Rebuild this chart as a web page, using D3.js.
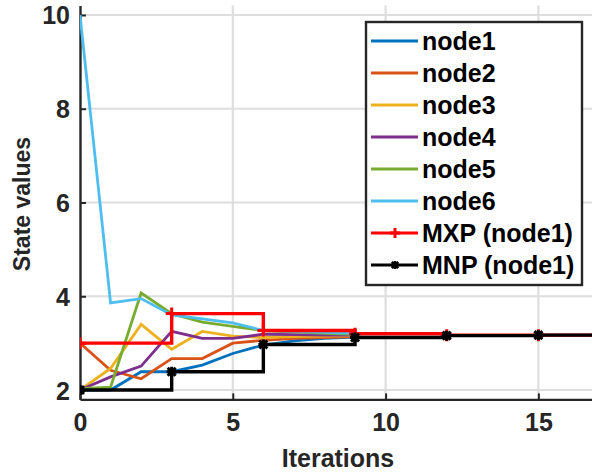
<!DOCTYPE html>
<html lang="en">

<head>
    <meta charset="UTF-8">
    <title>State values</title>
    <style>
        body { margin: 0; background: #fff; }
        text { font-family: "Liberation Sans", Arial, sans-serif; font-weight: bold; }
    </style>
</head>

<body>
    <script src="https://d3js.org/d3.v7.min.js"></script>
    <script>

        const width = 592;
        const height = 472;

        // data
        const iterations = [0, 1, 2, 3, 4, 5, 6, 7, 8, 9];
        const node1 = [2.0, 2.0, 2.39, 2.39, 2.53, 2.78, 2.96, 3.05, 3.10, 3.13];
        const node2 = [3.0, 2.42, 2.24, 2.67, 2.67, 3.0, 3.06, 3.10, 3.12, 3.14];
        const node3 = [2.0, 2.46, 3.40, 2.87, 3.25, 3.15, 3.12, 3.14, 3.15, 3.16];
        const node4 = [2.0, 2.28, 2.51, 3.25, 3.10, 3.10, 3.19, 3.18, 3.17, 3.17];
        const node5 = [2.03, 2.06, 4.07, 3.63, 3.45, 3.36, 3.27, 3.24, 3.21, 3.19];
        const node6 = [10.0, 3.86, 3.95, 3.60, 3.52, 3.43, 3.27, 3.25, 3.23, 3.21];

        const sampleIter = [0, 3, 6, 9, 12, 15, 18];
        const mxp = [3.0, 3.63, 3.27, 3.20, 3.17, 3.17, 3.17];
        const mnp = [2.0, 2.39, 2.97, 3.12, 3.16, 3.17, 3.17];

        const xTicks = [0, 5, 10, 15];
        const yTicks = [2, 4, 6, 8, 10];

        const nodeNames = ["node1", "node2", "node3", "node4", "node5", "node6"];
        const nodeColors = ["#0072BD", "#D95319", "#EDB120", "#7E2F8E", "#77AC30", "#4DBEEE"];

        const series = [node1, node2, node3, node4, node5, node6];

        // scales
        const x = d3.scaleLinear().domain([0, 17]).range([80, 599.5]);
        const y = d3.scaleLinear().domain([1.8, 10.2]).range([399.4, 5.6]);

        const svg = d3.select("body").append("svg")
            .attr("width", width)
            .attr("height", height);

        svg.append("clipPath").attr("id", "plot")
            .append("rect")
            .attr("x", 80).attr("y", 4).attr("width", 520).attr("height", 397);

        // grid
        const grid = svg.append("g").attr("stroke", "#dedede").attr("stroke-width", 2.2);
        grid.selectAll("line.gx")
            .data(xTicks.filter(d => d > 0))
            .join("line")
            .attr("x1", d => x(d)).attr("x2", d => x(d))
            .attr("y1", y.range()[0]).attr("y2", y.range()[1]);
        grid.selectAll("line.gy")
            .data(yTicks)
            .join("line")
            .attr("x1", x.range()[0]).attr("x2", x.range()[1])
            .attr("y1", d => y(d)).attr("y2", d => y(d));

        // axes
        const xAxis = svg.append("g")
            .attr("transform", `translate(0,${y.range()[0]})`)
            .call(d3.axisBottom(x).tickValues(xTicks).tickSizeInner(-6).tickSizeOuter(0).tickPadding(14));
        const yAxis = svg.append("g")
            .attr("transform", `translate(${x.range()[0]},0)`)
            .call(d3.axisLeft(y).tickValues(yTicks).tickSizeInner(-6).tickSizeOuter(0).tickPadding(10));

        [xAxis, yAxis].forEach(a => {
            a.select(".domain").attr("stroke", "#262626").attr("stroke-width", 2.4);
            a.selectAll(".tick line").attr("stroke", "#262626").attr("stroke-width", 2);
            a.selectAll(".tick text")
                .attr("font-size", 25)
                .attr("font-family", "Liberation Sans, Arial, sans-serif")
                .attr("font-weight", "bold")
                .attr("fill", "#262626");
        });
        yAxis.selectAll(".tick text").attr("dy", "0.36em");

        // axis labels
        svg.append("text")
            .attr("x", 338).attr("y", 467)
            .attr("text-anchor", "middle")
            .attr("font-size", 25)
            .attr("fill", "#262626")
            .text("Iterations");

        svg.append("text")
            .attr("transform", "translate(30,204) rotate(-90)")
            .attr("text-anchor", "middle")
            .attr("font-size", 23)
            .attr("fill", "#262626")
            .text("State values");

        // lines
        const plot = svg.append("g").attr("clip-path", "url(#plot)");

        const line = d3.line()
            .x((d, i) => x(iterations[i]))
            .y(d => y(d));

        plot.selectAll("path.node")
            .data(series)
            .join("path")
            .attr("fill", "none")
            .attr("stroke", (d, i) => nodeColors[i])
            .attr("stroke-width", 2.8)
            .attr("d", line);

        const stairs = d3.line()
            .x((d, i) => x(sampleIter[i]))
            .y(d => y(d))
            .curve(d3.curveStepAfter);

        function plusPath(s) {
            return `M${-s},0H${s}M0,${-s}V${s}`;
        }
        function starPath(s) {
            const d = s * 0.8;
            return `M${-s},0H${s}M0,${-s}V${s}M${-d},${-d}L${d},${d}M${-d},${d}L${d},${-d}`;
        }

        function drawStairs(vals, color, markerPath) {
            plot.append("path")
                .attr("fill", "none")
                .attr("stroke", color)
                .attr("stroke-width", 3.4)
                .attr("d", stairs(vals));
            plot.selectAll(null)
                .data(vals)
                .join("path")
                .attr("transform", (d, i) => `translate(${x(sampleIter[i])},${y(d)})`)
                .attr("fill", "none")
                .attr("stroke", color)
                .attr("stroke-width", 3)
                .attr("d", markerPath);
        }

        drawStairs(mxp, "#ff0000", plusPath(6));
        drawStairs(mnp, "#000000", starPath(5));

        // legend
        const legendNames = nodeNames.concat(["MXP (node1)", "MNP (node1)"]);
        const legendColors = nodeColors.concat(["#ff0000", "#000000"]);

        const legend = svg.append("g");
        legend.append("rect")
            .attr("x", 366).attr("y", 22)
            .attr("width", 216).attr("height", 263)
            .attr("fill", "#fff")
            .attr("stroke", "#262626")
            .attr("stroke-width", 2.4);

        const rows = legend.selectAll("g.row")
            .data(legendNames)
            .join("g")
            .attr("transform", (d, i) => `translate(0,${41 + i * 32})`);

        rows.append("line")
            .attr("x1", 371).attr("x2", 418)
            .attr("y1", 0).attr("y2", 0)
            .attr("stroke", (d, i) => legendColors[i])
            .attr("stroke-width", (d, i) => i < 6 ? 2.8 : 3.2);

        rows.filter((d, i) => i === 6).append("path")
            .attr("transform", "translate(395,0)")
            .attr("fill", "none").attr("stroke", "#ff0000").attr("stroke-width", 3)
            .attr("d", plusPath(5));
        rows.filter((d, i) => i === 7).append("path")
            .attr("transform", "translate(395,0)")
            .attr("fill", "none").attr("stroke", "#000").attr("stroke-width", 2.5)
            .attr("d", starPath(4));

        rows.append("text")
            .attr("x", 422)
            .attr("dy", "0.36em")
            .attr("font-size", 25)
            .attr("fill", "#000")
            .text(d => d);

    </script>
</body>

</html>
